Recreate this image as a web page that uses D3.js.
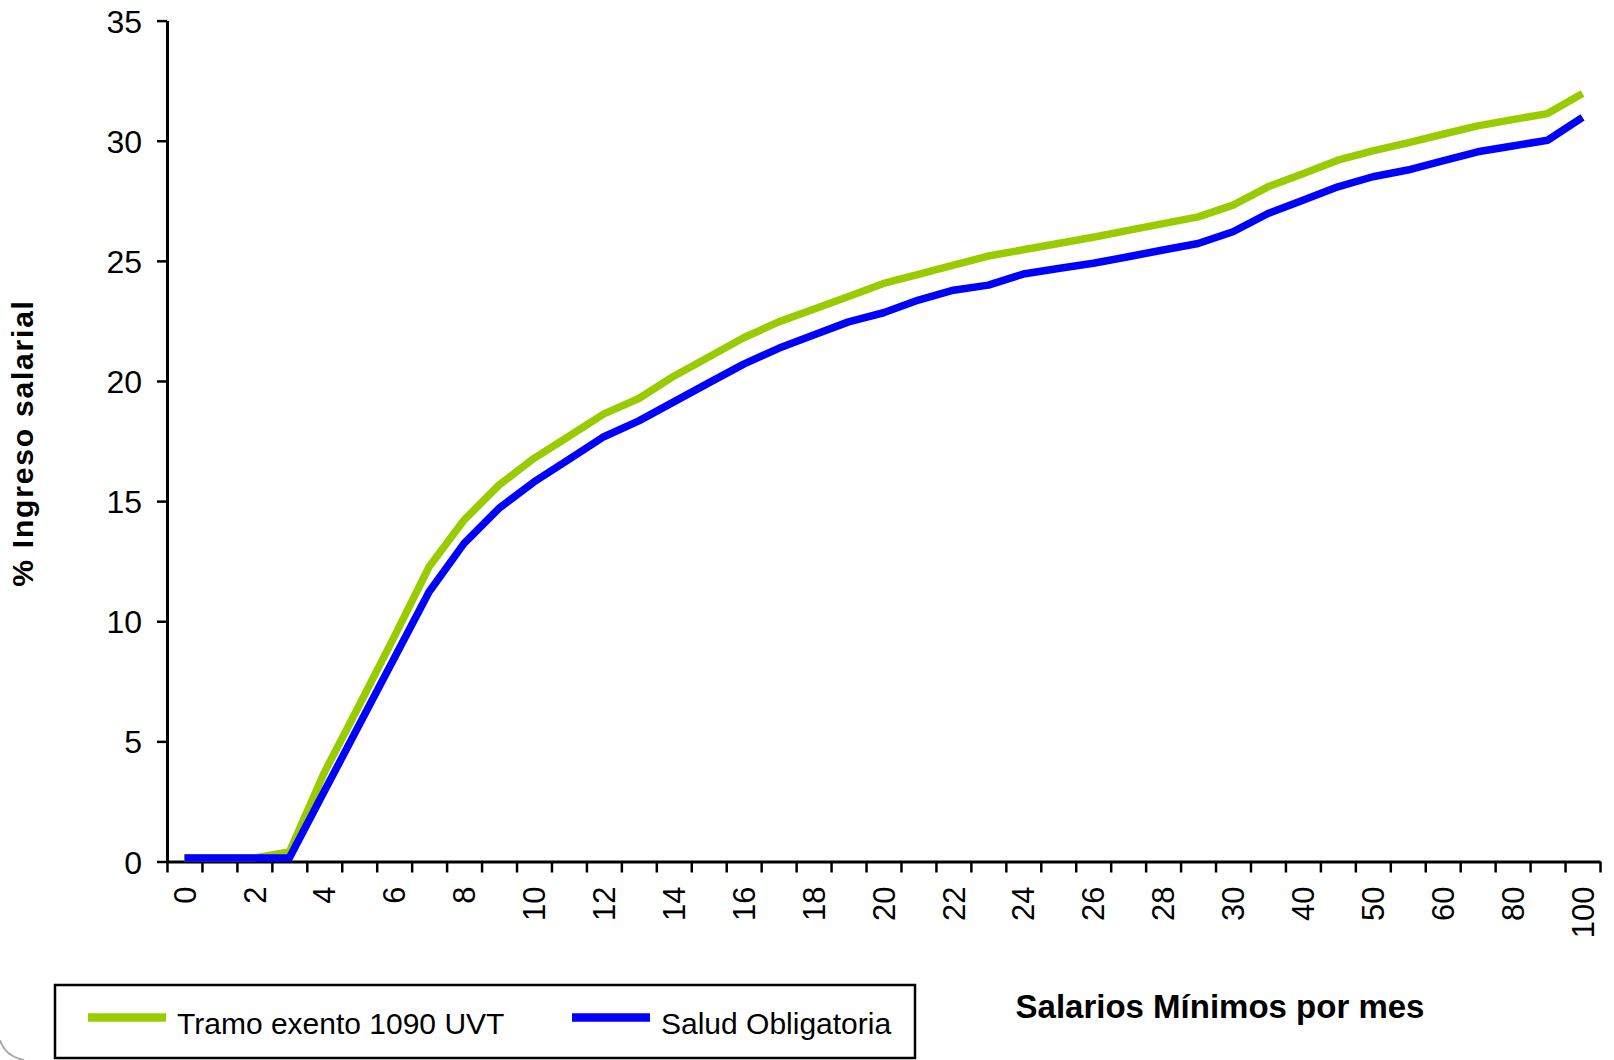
<!DOCTYPE html>
<html>
<head>
<meta charset="utf-8">
<script src="https://cdn.jsdelivr.net/npm/d3@7"></script>
<style>
  html, body { margin: 0; padding: 0; background: #fff; }
  svg { display: block; font-family: "Liberation Sans", Arial, sans-serif; }
</style>
</head>
<body>
<svg id="chart"></svg>
<script>
// Salarios mínimos por mes (categorías del eje X)
const categories = [0, 1, 2, 3, 4, 5, 6, 7, 8, 9, 10, 11, 12, 13, 14, 15, 16, 17, 18, 19,
    20, 21, 22, 23, 24, 25, 26, 27, 28, 29, 30, 35, 40, 45, 50, 55, 60, 70, 80, 90, 100];

// % Ingreso salarial
const tramoExento = [0.15, 0.15, 0.15, 0.4, 3.7, 6.5, 9.35, 12.27, 14.21, 15.67, 16.78, 17.7,
    18.63, 19.27, 20.2, 21.0, 21.8, 22.46, 22.99, 23.52, 24.06, 24.44, 24.82, 25.2, 25.46,
    25.72, 25.98, 26.27, 26.55, 26.83, 27.32, 28.08, 28.63, 29.19, 29.58, 29.91, 30.27,
    30.62, 30.88, 31.13, 31.97];

const saludObligatoria = [0.15, 0.15, 0.15, 0.15, 2.92, 5.69, 8.46, 11.23, 13.24, 14.7, 15.8,
    16.74, 17.68, 18.34, 19.13, 19.92, 20.7, 21.36, 21.91, 22.46, 22.84, 23.37, 23.78, 23.99,
    24.45, 24.68, 24.9, 25.17, 25.45, 25.72, 26.21, 26.97, 27.52, 28.08, 28.5, 28.78, 29.16,
    29.54, 29.78, 30.02, 30.97];

const yTicks = [0, 5, 10, 15, 20, 25, 30, 35];
const xLabels = categories.filter((d, i) => i % 2 === 0);

const series = [
    { name: "Tramo exento 1090 UVT", color: "#99cc00", values: tramoExento },
    { name: "Salud Obligatoria", color: "#0000ff", values: saludObligatoria }
];

const width = 1614;
const height = 1060;
const plot = { left: 167, right: 1600, top: 20.6, bottom: 861.5 };

const svg = d3.select("#chart")
    .attr("width", width)
    .attr("height", height)
    .attr("viewBox", [0, 0, width, height]);

const x = d3.scaleBand(categories, [plot.left, plot.right]);
const xEdges = d3.scaleLinear([0, categories.length], [plot.left, plot.right]);
const y = d3.scaleLinear([0, 35], [plot.bottom, plot.top]);

// Y axis
const yAxis = svg.append("g")
    .attr("transform", `translate(${plot.left},0)`)
    .call(d3.axisLeft(y).tickValues(yTicks).tickSize(10).tickSizeOuter(0).tickPadding(15));

yAxis.select(".domain").attr("stroke-width", 3);
yAxis.selectAll(".tick line").attr("stroke-width", 2.5);
yAxis.selectAll(".tick text")
    .attr("font-size", 32)
    .attr("fill", "#000")
    .attr("dy", "0.36em");

// X axis: tick marks between categories
const xTickAxis = svg.append("g")
    .attr("transform", `translate(0,${plot.bottom})`)
    .call(d3.axisBottom(xEdges).tickValues(d3.range(categories.length + 1))
        .tickFormat("").tickSize(11).tickSizeOuter(0));

xTickAxis.select(".domain").attr("stroke-width", 3);
xTickAxis.selectAll(".tick line").attr("stroke-width", 2.5);

// X axis: labels, every second category, rotated
const xLabelAxis = svg.append("g")
    .attr("transform", `translate(0,${plot.bottom})`)
    .call(d3.axisBottom(x).tickValues(xLabels).tickSize(0).tickSizeOuter(0));

xLabelAxis.select(".domain").remove();
xLabelAxis.selectAll(".tick text")
    .attr("font-size", 31)
    .attr("fill", "#000")
    .attr("x", 0)
    .attr("y", 0)
    .attr("dy", "0.36em")
    .attr("text-anchor", "end")
    .attr("transform", "translate(0,25) rotate(-90)");

// Lines
const line = d3.line()
    .x((d, i) => x(categories[i]) + x.bandwidth() / 2)
    .y(d => y(d));

svg.append("g")
    .selectAll("path")
    .data(series)
    .join("path")
        .attr("fill", "none")
        .attr("stroke", d => d.color)
        .attr("stroke-width", 7.5)
        .attr("stroke-linejoin", "round")
        .attr("d", d => line(d.values));

// Axis titles
svg.append("text")
    .attr("transform", "translate(33,443) rotate(-90)")
    .attr("text-anchor", "middle")
    .attr("font-size", 30)
    .attr("font-weight", "bold")
    .attr("letter-spacing", 1.8)
    .text("% Ingreso salarial");

svg.append("text")
    .attr("x", 1220)
    .attr("y", 1018)
    .attr("text-anchor", "middle")
    .attr("font-size", 33)
    .attr("font-weight", "bold")
    .text("Salarios Mínimos por mes");

// Legend
const legend = svg.append("g");

legend.append("rect")
    .attr("x", 55)
    .attr("y", 985)
    .attr("width", 860)
    .attr("height", 73)
    .attr("fill", "#fff")
    .attr("stroke", "#000")
    .attr("stroke-width", 2.5);

const legendX = [88, 572];

const items = legend.selectAll("g.item")
    .data(series)
    .join("g")
        .classed("item", true)
        .attr("transform", (d, i) => `translate(${legendX[i]},1017.5)`);

items.append("line")
    .attr("x1", 0)
    .attr("x2", 78)
    .attr("stroke", d => d.color)
    .attr("stroke-width", 8.5);

items.append("text")
    .attr("x", 89)
    .attr("y", 16.5)
    .attr("font-size", 30)
    .text(d => d.name);

// rounded border corner, bottom left
svg.append("path")
    .attr("d", "M0,1040 Q5,1056 24,1060")
    .attr("fill", "none")
    .attr("stroke", "#aaa")
    .attr("stroke-width", 2);
</script>
</body>
</html>
